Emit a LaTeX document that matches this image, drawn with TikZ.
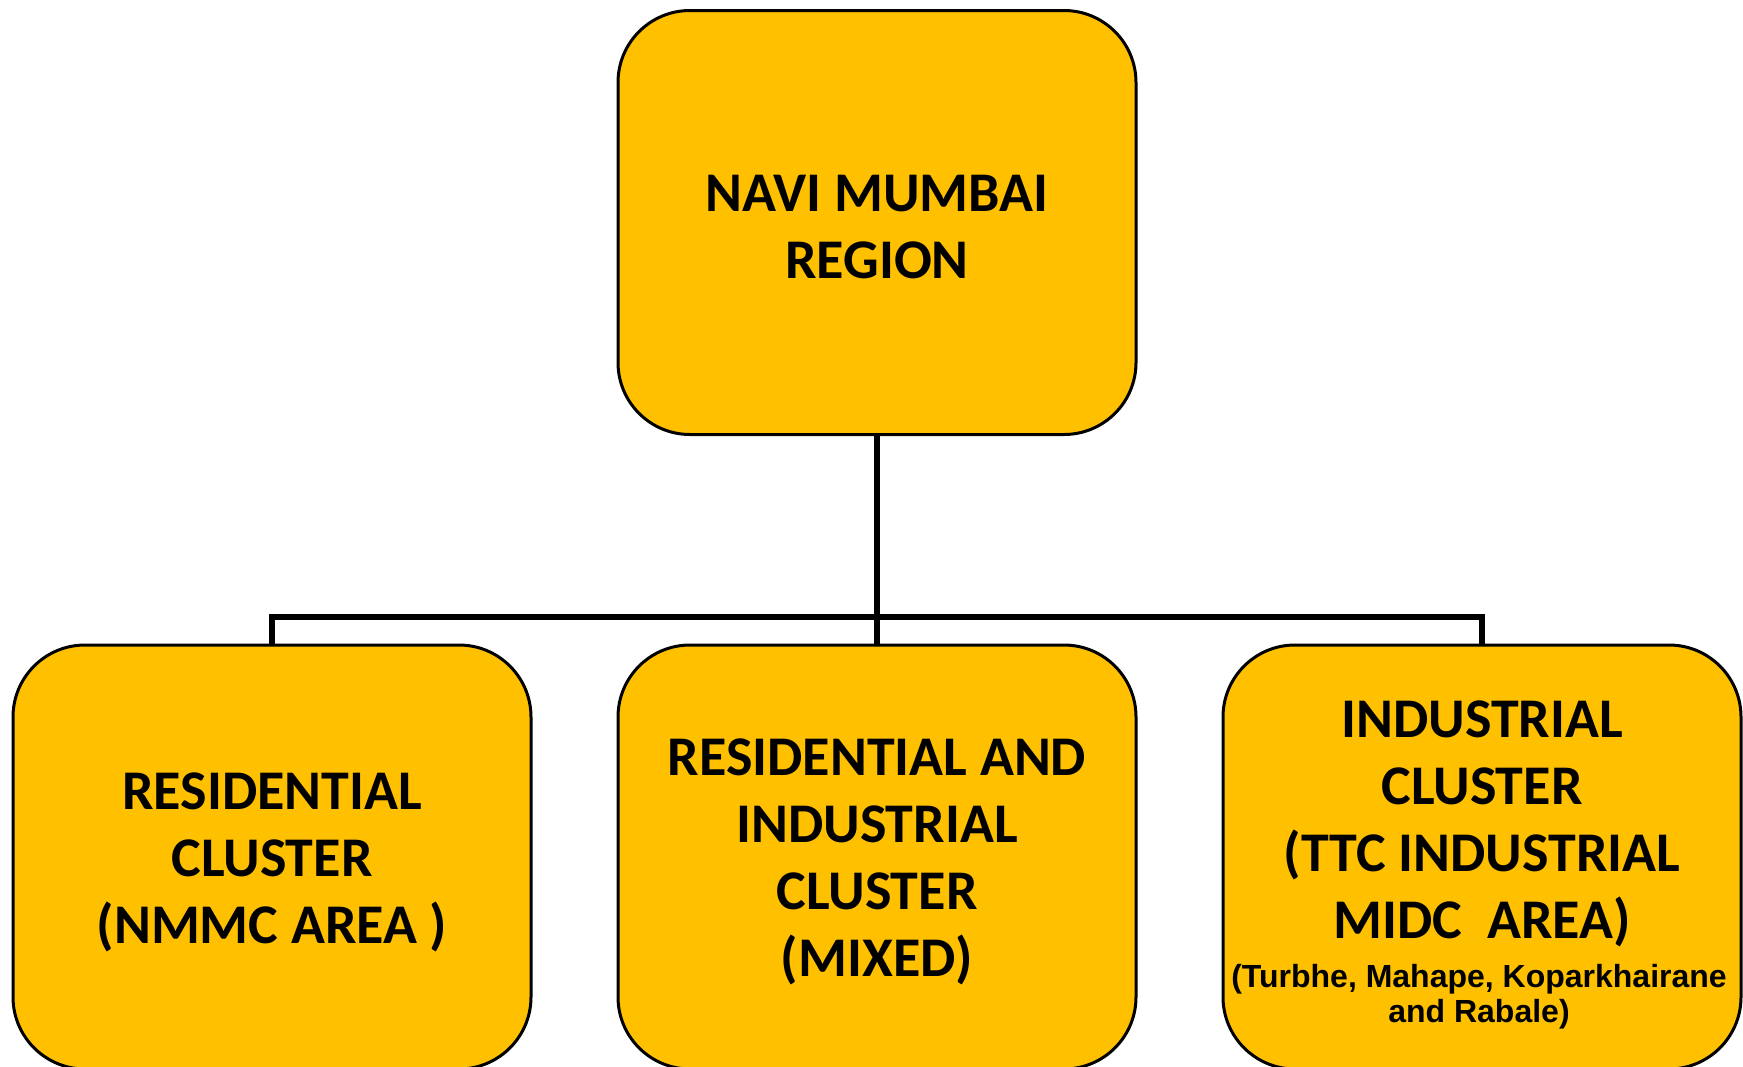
\documentclass[tikz,border=0pt]{standalone}
\usepackage{fontspec}
\setmainfont{Carlito}
\newfontfamily\arialfam{Liberation Sans}
\definecolor{boxfill}{HTML}{FFC000}
\tikzset{
  boxnode/.style={draw=black, line width=3pt, fill=boxfill, rounded corners=72pt,
    minimum width=518pt, minimum height=424pt, inner sep=0pt},
  conn/.style={draw=black, line width=6pt},
  bigtext/.style={font=\fontsize{56}{67}\selectfont\bfseries, align=center, inner sep=0pt},
  smalltext/.style={font=\arialfam\fontsize{32}{35}\selectfont\bfseries, align=center, inner sep=0pt}
}
\begin{document}
\begin{tikzpicture}[x=1pt, y=-1pt]
\useasboundingbox (0,0) rectangle (1743,1066);
\clip (0,0) rectangle (1743,1066);
\fill[white] (0,0) rectangle (1743,1066);
% boxes positions
\coordinate (ctop) at (877,222.5);
\coordinate (cleft) at (272,857);
\coordinate (cmid) at (877,857);
\coordinate (cright) at (1482,857);
% connectors first
\node[boxnode, draw=none, fill=none] (top) at (ctop) {};
\node[boxnode, draw=none, fill=none] (left) at (cleft) {};
\node[boxnode, draw=none, fill=none] (mid) at (cmid) {};
\node[boxnode, draw=none, fill=none] (right) at (cright) {};
\draw[conn] (top.south) -- (mid.north);
\draw[conn] (left.north) -- ++(0,-27) -| (right.north);
% visible boxes
\node[boxnode] (topbox) at (ctop) {};
\node[boxnode] (leftbox) at (cleft) {};
\node[boxnode] (midbox) at (cmid) {};
\node[boxnode] (rightbox) at (cright) {};
% texts
\node[bigtext] (toptext) at (877,227) {NAVI MUMBAI\\REGION};
\node[bigtext] (lefttext) at (272,862) {RESIDENTIAL\\CLUSTER\\(NMMC AREA )};
\node[bigtext] (midtext) at (877,862) {RESIDENTIAL AND\\INDUSTRIAL\\CLUSTER\\(MIXED)};
\node[bigtext] (righttext) at (1482,824) {INDUSTRIAL\\CLUSTER\\(TTC INDUSTRIAL\\MIDC\ \ AREA)};
\node[smalltext] (rightsmall) at (1479,996.5) {(Turbhe, Mahape, Koparkhairane\\and Rabale)};
\end{tikzpicture}
\end{document}
